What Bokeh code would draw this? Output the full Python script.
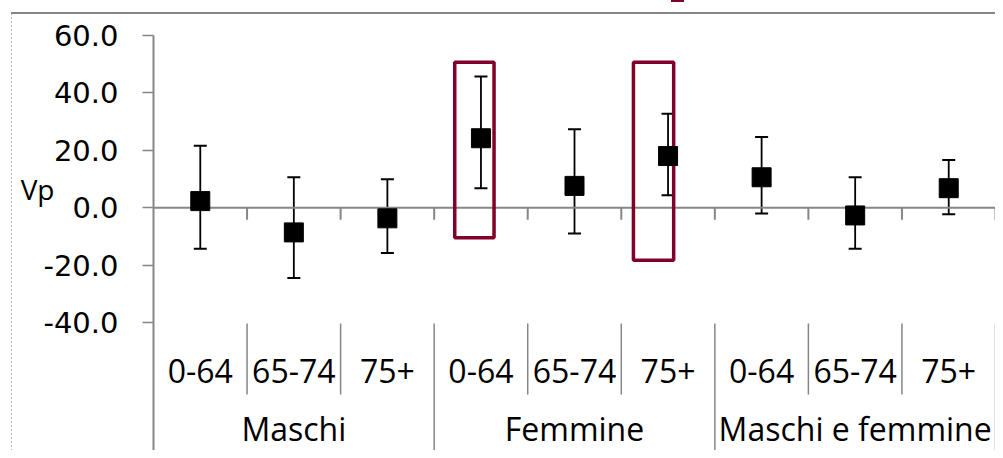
from bokeh.plotting import figure
from bokeh.models import (Range1d, LinearAxis, FixedTicker, PrintfTickFormatter,
                          ColumnDataSource, Whisker, TeeHead, Grid)
from bokeh.core.properties import value
from bokeh.embed import file_html
from bokeh.resources import INLINE

# ---------------- data ----------------
groups = ["Maschi", "Femmine", "Maschi e femmine"]
ages = ["0-64", "65-74", "75+"]
vp = [2.3, -8.6, -3.7, 24.2, 7.6, 18.0, 10.6, -2.7, 6.8]
upper = [21.6, 10.6, 9.9, 45.7, 27.3, 32.7, 24.6, 10.6, 16.6]
lower = [-14.3, -24.5, -15.8, 6.8, -9.0, 4.3, -2.0, -14.3, -2.3]
y_ticks = [-40, -20, 0, 20, 40, 60]
y_title = "Vp"
highlight_index = [3, 5]          # Femmine 0-64, Femmine 75+
highlight_top = [50.7, 50.7]
highlight_bottom = [-10.5, -18.3]

# ---------------- layout ----------------
PX = 2.87                      # pixels per unit on y
YMAX = 60 + 35 / PX
YMIN = -40 - (450 - 322) / PX
n_cat = len(groups) * len(ages)
GRAY = "#868686"
RED = "#80002a"

p = figure(width=995, height=450, x_range=Range1d(0, n_cat), y_range=Range1d(YMIN, YMAX),
           output_backend="svg", toolbar_location=None,
           x_axis_location=None, y_axis_location=None,
           min_border_left=153, min_border_right=0, min_border_top=0, min_border_bottom=0,
           styles={
               "background-color": "white",
               "background-image": "linear-gradient(#868686, #868686), "
                                   "repeating-linear-gradient(to bottom, #b4b4b4 0px, #b4b4b4 2px, "
                                   "transparent 2px, transparent 4px), "
                                   "linear-gradient(#80002a, #80002a)",
               "background-size": "984px 2px, 1px 437px, 13px 2px",
               "background-position": "11px 12px, 11px 13px, 671px 0px",
               "background-repeat": "no-repeat",
           })
p.outline_line_color = None
p.background_fill_color = None
p.border_fill_color = None
p.center = [r for r in p.center if not isinstance(r, Grid)]

# y axis
yaxis = LinearAxis(ticker=FixedTicker(ticks=y_ticks),
                   formatter=PrintfTickFormatter(format="%.1f"),
                   bounds=(YMIN, 60))
yaxis.axis_line_color = GRAY
yaxis.axis_line_width = 2
yaxis.major_tick_line_color = GRAY
yaxis.major_tick_line_width = 1.5
yaxis.major_tick_in = 0
yaxis.major_tick_out = 11
yaxis.minor_tick_line_color = None
yaxis.major_label_text_font = "DejaVu Sans"
yaxis.major_label_text_font_size = "29px"
yaxis.major_label_text_color = "black"
yaxis.major_label_standoff = 24
p.add_layout(yaxis, "left")

# outer axis carrying the horizontal "Vp" title
title_axis = LinearAxis(ticker=FixedTicker(ticks=[6.6]), formatter=PrintfTickFormatter(format=y_title))
title_axis.axis_line_color = None
title_axis.major_tick_line_color = None
title_axis.minor_tick_line_color = None
title_axis.major_tick_in = 0
title_axis.major_tick_out = 0
title_axis.major_label_text_font = "Open Sans"
title_axis.major_label_text_font_size = "28px"
title_axis.major_label_text_color = "black"
title_axis.major_label_standoff = -14
p.add_layout(title_axis, "left")

# x axis line at zero and boundary ticks
bounds_x = list(range(1, n_cat + 1))
p.segment(x0=[0], y0=[0], x1=[n_cat], y1=[0], line_color=GRAY, line_width=2)
p.segment(x0=bounds_x, y0=[0] * len(bounds_x), x1=bounds_x, y1=[-4.2] * len(bounds_x),
          line_color=GRAY, line_width=2)

# category label dividers
short_x = [b for b in range(1, n_cat) if b % len(ages) != 0]
long_x = [b for b in range(1, n_cat + 1) if b % len(ages) == 0]
p.segment(x0=short_x, y0=[-40.35] * len(short_x), x1=short_x, y1=[-65.1] * len(short_x),
          line_color=GRAY, line_width=1.5)
p.segment(x0=long_x, y0=[-40.35] * len(long_x), x1=long_x, y1=[YMIN] * len(long_x),
          line_color=GRAY, line_width=1.5)

# category labels
age_x = [i + 0.5 for i in range(n_cat)]
age_lab = [ages[i % len(ages)] for i in range(n_cat)]
p.text(x=age_x, y=[-56.9] * n_cat, text=age_lab, text_align="center", text_baseline="middle",
       text_font=value("Open Sans"), text_font_size=value("32px"), text_color="black")
grp_x = [g * len(ages) + len(ages) / 2 for g in range(len(groups))]
p.text(x=grp_x, y=[-76.9] * len(groups), text=groups, text_align="center", text_baseline="middle",
       text_font=value("Open Sans"), text_font_size=value("32px"), text_color="black")

# highlight rectangles
hl_left = [highlight_index[0] + 0.5 - 0.28, highlight_index[1] + 0.5 - 0.37]
hl_right = [highlight_index[0] + 0.5 + 0.14, highlight_index[1] + 0.5 + 0.06]
p.quad(left=hl_left, right=hl_right, top=highlight_top, bottom=highlight_bottom,
       fill_color=None, line_color=RED, line_width=3.5)

# error bars and points
src = ColumnDataSource(dict(x=age_x, vp=vp, upper=upper, lower=lower))
p.add_layout(Whisker(source=src, base="x", upper="upper", lower="lower",
                     line_color="black", line_width=1.8,
                     upper_head=TeeHead(size=13, line_color="black", line_width=2),
                     lower_head=TeeHead(size=13, line_color="black", line_width=2)))
p.scatter(x="x", y="vp", source=src, marker="square", size=19,
          fill_color="black", line_color="black")

open("out.html", "w").write(file_html(p, INLINE))
